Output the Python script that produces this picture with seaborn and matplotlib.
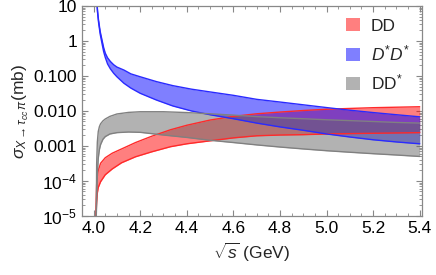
import numpy as np
import pandas as pd
import seaborn as sns
import matplotlib
matplotlib.use("Agg")
import matplotlib.pyplot as plt
from matplotlib.patches import Patch
from matplotlib.ticker import FixedLocator, FixedFormatter, LogLocator, MultipleLocator, NullFormatter

# DD band
x_dd = [4.0103, 4.011, 4.013, 4.016, 4.02, 4.03, 4.05, 4.08, 4.12, 4.18, 4.25, 4.33, 4.4,
        4.5, 4.6, 4.7, 4.8, 4.9, 5.0, 5.1, 5.2, 5.3, 5.4]
dd_hi = [1e-5, 3e-5, 8e-5, 1.4e-4, 2.0e-4, 3.2e-4, 4.6e-4, 6.2e-4, 8.2e-4, 1.25e-3, 1.9e-3,
         2.9e-3, 3.9e-3, 5.5e-3, 7.0e-3, 8.3e-3, 9.3e-3, 1.03e-2, 1.12e-2, 1.18e-2, 1.24e-2,
         1.28e-2, 1.32e-2]
dd_lo = [1e-5, 1.3e-5, 2.5e-5, 4.5e-5, 6.5e-5, 9.5e-5, 1.5e-4, 2.2e-4, 3.3e-4, 4.9e-4, 6.8e-4,
         9.5e-4, 1.15e-3, 1.4e-3, 1.7e-3, 1.95e-3, 2.05e-3, 2.1e-3, 2.2e-3, 2.25e-3, 2.3e-3,
         2.35e-3, 2.4e-3]

# D*D* band
x_ss = [4.0145, 4.017, 4.021, 4.028, 4.036, 4.043, 4.05, 4.06, 4.072, 4.086, 4.1, 4.13, 4.16,
        4.2, 4.27, 4.34, 4.42, 4.5, 4.6, 4.7, 4.8, 4.9, 5.0, 5.1, 5.2, 5.3, 5.4]
ss_hi = [12, 7, 4.0, 1.9, 1.07, 0.65, 0.45, 0.33, 0.26, 0.21, 0.18, 0.148, 0.115, 0.095, 0.069,
         0.053, 0.042, 0.035, 0.028, 0.0215, 0.018, 0.015, 0.0125, 0.0105, 0.009, 0.0078, 0.0068]
ss_lo = [12, 6.5, 3.5, 1.6, 0.85, 0.5, 0.34, 0.22, 0.16, 0.12, 0.095, 0.062, 0.045, 0.032,
         0.0205, 0.0139, 0.010, 0.0078, 0.006, 0.0045, 0.0035, 0.0028, 0.0022, 0.0018, 0.0015,
         0.0013, 0.00115]

# DD* band
x_ds = [4.0115, 4.013, 4.016, 4.02, 4.025, 4.03, 4.04, 4.05, 4.07, 4.1, 4.15, 4.2, 4.3, 4.4,
        4.5, 4.6, 4.7, 4.8, 4.9, 5.0, 5.1, 5.2, 5.3, 5.4]
ds_hi = [1e-5, 3e-4, 1.3e-3, 2.6e-3, 3.6e-3, 4.3e-3, 5.2e-3, 5.9e-3, 7.0e-3, 8.2e-3, 9.1e-3,
         9.5e-3, 9.5e-3, 9.0e-3, 8.3e-3, 7.6e-3, 6.9e-3, 6.4e-3, 6.0e-3, 5.6e-3, 5.3e-3, 5.0e-3,
         4.7e-3, 4.5e-3]
ds_lo = [1e-5, 3e-5, 1.5e-4, 4.5e-4, 8e-4, 1.1e-3, 1.55e-3, 1.85e-3, 2.2e-3, 2.4e-3, 2.5e-3,
         2.45e-3, 2.05e-3, 1.75e-3, 1.45e-3, 1.25e-3, 1.07e-3, 0.93e-3, 0.82e-3, 0.73e-3,
         0.66e-3, 0.6e-3, 0.55e-3, 0.5e-3]

y_ticks = [1e-5, 1e-4, 1e-3, 1e-2, 1e-1, 1, 10]
y_labels = [r"$10^{-5}$", r"$10^{-4}$", "0.001", "0.010", "0.100", "1", "10"]
x_ticks = [4.0, 4.2, 4.4, 4.6, 4.8, 5.0, 5.2, 5.4]

sns.set_style("ticks")
plt.rcParams["font.family"] = ["Liberation Sans", "DejaVu Sans"]
plt.rcParams["mathtext.fontset"] = "custom"
plt.rcParams["mathtext.rm"] = "Liberation Sans"
plt.rcParams["mathtext.it"] = "Liberation Sans:italic"

fig = plt.figure(figsize=(4.36, 2.75), dpi=100)
ax = fig.add_axes([0.188, 0.215, 0.78, 0.763])

bands = [
    ("DD", x_dd, dd_hi, dd_lo, "#ff0000", "#ff2a2a"),
    ("$D^{*}D^{*}$", x_ss, ss_hi, ss_lo, "#0000ff", "#2a2aff"),
    ("DD$^{*}$", x_ds, ds_hi, ds_lo, "#666666", "#808080"),
]

handles = []
for name, xs, hi, lo, fill, edge in bands:
    ax.fill_between(xs, lo, hi, color=fill, alpha=0.5, lw=0)
    df = pd.DataFrame({"x": xs, "hi": hi, "lo": lo})
    sns.lineplot(data=df, x="x", y="hi", color=edge, lw=1.0, ax=ax)
    sns.lineplot(data=df, x="x", y="lo", color=edge, lw=1.0, ax=ax)
    handles.append(Patch(facecolor=fill, alpha=0.5, edgecolor="none", label=name))

ax.set_yscale("log")
ax.set_xlim(3.95, 5.41)
ax.set_ylim(1e-5, 10)

ax.yaxis.set_major_locator(FixedLocator(y_ticks))
ax.yaxis.set_major_formatter(FixedFormatter(y_labels))
ax.yaxis.set_minor_locator(LogLocator(base=10, subs=np.arange(2, 10), numticks=20))
ax.yaxis.set_minor_formatter(NullFormatter())
ax.xaxis.set_major_locator(FixedLocator(x_ticks))
ax.xaxis.set_major_formatter(FixedFormatter([f"{t:.1f}" for t in x_ticks]))
ax.xaxis.set_minor_locator(MultipleLocator(0.05))

ax.tick_params(which="both", direction="in", top=True, right=True, color="#888888",
               labelsize=12.5, labelcolor="black")
ax.tick_params(which="major", length=4, width=0.8)
ax.tick_params(which="minor", length=2, width=0.6)
for sp in ax.spines.values():
    sp.set_color("#888888")
    sp.set_linewidth(0.9)

ax.set_xlabel(r"$\sqrt{s}$ (GeV)", fontsize=12.5)
ax.set_ylabel(r"$\sigma_{X\rightarrow\tau_{cc}\,\pi}$(mb)", fontsize=12.5, labelpad=2)

ax.legend(handles=handles, loc="upper right", frameon=False, fontsize=12.5,
          handlelength=0.8, handleheight=0.8, handletextpad=0.6, labelspacing=0.55,
          borderaxespad=0.3)

fig.savefig("out.png", dpi=100)
